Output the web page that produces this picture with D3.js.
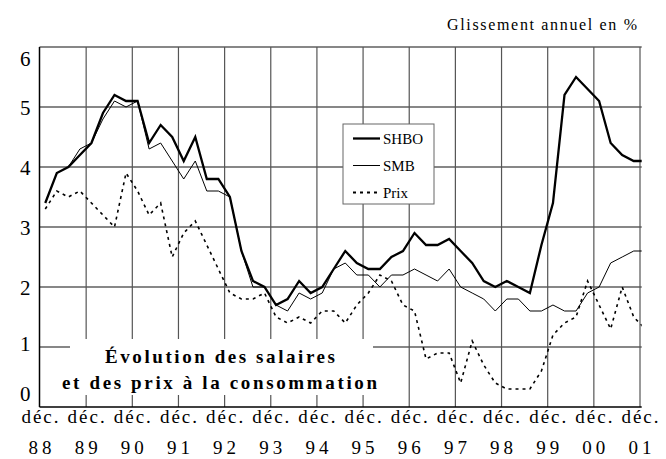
<!DOCTYPE html>
<html>
<head>
<meta charset="utf-8">
<script src="https://cdn.jsdelivr.net/npm/d3@7"></script>
<style>
  body { margin: 0; background: #fff; }
  svg { display: block; }
  svg text { font-family: "Liberation Serif", "Times New Roman", serif; }
</style>
</head>
<body>
<svg id="chart" width="666" height="459"></svg>
<script>
// glissement annuel trimestriel, de mars 89 a mars 02 (un point par trimestre)
const shbo = [3.4, 3.9, 4.0, 4.2, 4.4, 4.9, 5.2, 5.1, 5.1, 4.4, 4.7, 4.5, 4.1, 4.5, 3.8, 3.8,
  3.5, 2.6, 2.1, 2.0, 1.7, 1.8, 2.1, 1.9, 2.0, 2.3, 2.6, 2.4, 2.3, 2.3, 2.5, 2.6,
  2.9, 2.7, 2.7, 2.8, 2.6, 2.4, 2.1, 2.0, 2.1, 2.0, 1.9, 2.7, 3.4, 5.2, 5.5, 5.3,
  5.1, 4.4, 4.2, 4.1, 4.1]
const smb = [3.4, 3.9, 4.0, 4.3, 4.4, 4.8, 5.1, 5.0, 5.1, 4.3, 4.4, 4.1, 3.8, 4.1, 3.6, 3.6,
  3.5, 2.6, 2.0, 2.0, 1.7, 1.6, 1.9, 1.8, 1.9, 2.3, 2.4, 2.2, 2.2, 2.0, 2.2, 2.2,
  2.3, 2.2, 2.1, 2.3, 2.0, 1.9, 1.8, 1.6, 1.8, 1.8, 1.6, 1.6, 1.7, 1.6, 1.6, 1.9,
  2.0, 2.4, 2.5, 2.6, 2.6]
const prix = [3.3, 3.6, 3.5, 3.6, 3.4, 3.2, 3.0, 3.9, 3.6, 3.2, 3.4, 2.5, 2.9, 3.1, 2.7, 2.3,
  1.9, 1.8, 1.8, 1.9, 1.5, 1.4, 1.5, 1.4, 1.6, 1.6, 1.4, 1.7, 1.9, 2.2, 2.1, 1.7,
  1.6, 0.8, 0.9, 0.9, 0.4, 1.1, 0.7, 0.4, 0.3, 0.3, 0.3, 0.6, 1.2, 1.4, 1.5, 2.1,
  1.7, 1.3, 2.0, 1.5, 1.3]
const years = ['88', '89', '90', '91', '92', '93', '94', '95', '96', '97', '98', '99', '00', '01']
const yTicks = [0, 1, 2, 3, 4, 5, 6]
const seriesNames = ['SHBO', 'SMB', 'Prix']

const svg = d3.select('#chart')
const plotLeft = 39.5
const plotRight = 641.7
const plotTop = 47
const plotBottom = 407

// 4 trimestres par annee, decembre 88 = 0
const x = d3.scaleLinear().domain([0, 52]).range([plotLeft, 639.5])
const y = d3.scaleLinear().domain([0, 6]).range([plotBottom, plotTop])

// grille horizontale
svg.append('g').selectAll('line')
  .data(yTicks.filter(d => d > 0))
  .join('line')
  .attr('x1', plotLeft).attr('x2', plotRight)
  .attr('y1', d => y(d)).attr('y2', d => y(d))
  .attr('stroke', '#111')
  .attr('stroke-width', 1.1)

// axe x : les ticks servent aussi de grille verticale
const xAxis = d3.axisBottom(x)
  .tickValues(years.map((d, i) => i * 4))
  .tickSizeInner(-(plotBottom - plotTop))
  .tickSizeOuter(0)
const gx = svg.append('g')
  .attr('transform', `translate(0,${plotBottom})`)
  .call(xAxis)
  .attr('font-family', null)
gx.select('.domain').remove()
gx.selectAll('.tick line').attr('stroke', '#555').attr('stroke-width', 1.2)
gx.selectAll('.tick').filter(d => d === 0).select('line').remove()
gx.selectAll('.tick text').each(function (d, i) {
  const t = d3.select(this)
  t.text(null).attr('y', null).attr('dy', null)
    .attr('fill', '#000')
    .attr('font-size', 19)
  t.append('tspan').attr('x', 1).attr('y', 16).attr('letter-spacing', 2).text('déc.')
  t.append('tspan').attr('x', 2).attr('y', 47).attr('letter-spacing', 4).text(years[i])
})

// courbes
svg.append('clipPath').attr('id', 'plotClip')
  .append('rect')
  .attr('x', plotLeft).attr('y', plotTop - 5)
  .attr('width', plotRight - plotLeft).attr('height', plotBottom - plotTop + 10)

const line = d3.line()
  .x((d, i) => x(i + 0.5))
  .y(d => y(d))

const styles = [
  { data: shbo, width: 2.3, dash: null },
  { data: smb, width: 1, dash: null },
  { data: prix, width: 1.6, dash: '3,4' }
]
const gLines = svg.append('g').attr('clip-path', 'url(#plotClip)')
styles.forEach(s => {
  gLines.append('path')
    .datum(s.data)
    .attr('d', line)
    .attr('fill', 'none')
    .attr('stroke', '#000')
    .attr('stroke-width', s.width)
    .attr('stroke-dasharray', s.dash)
    .attr('stroke-linejoin', 'miter')
})

// cadre gauche et bas
svg.append('line')
  .attr('x1', plotLeft).attr('x2', plotLeft).attr('y1', plotTop).attr('y2', plotBottom)
  .attr('stroke', '#000').attr('stroke-width', 1.5)
svg.append('line')
  .attr('x1', plotLeft).attr('x2', plotRight).attr('y1', plotBottom).attr('y2', plotBottom)
  .attr('stroke', '#000').attr('stroke-width', 1.5)

// axe y
const yAxis = d3.axisLeft(y)
  .tickValues(yTicks)
  .tickFormat(d3.format('d'))
  .tickSize(0)
  .tickPadding(9)
const gy = svg.append('g')
  .attr('transform', `translate(${plotLeft},0)`)
  .call(yAxis)
  .attr('font-family', null)
gy.select('.domain').remove()
gy.selectAll('.tick text')
  .attr('fill', '#000')
  .attr('font-size', 21)
  .attr('dy', d => d === 6 ? '0.9em' : d === 0 ? '-0.3em' : d === 1 ? '0.15em' : '0.35em')

// encadre du titre
svg.append('rect')
  .attr('x', 70).attr('y', 339)
  .attr('width', 303).attr('height', 56)
  .attr('fill', '#fff')
const titleBox = svg.append('g')
  .attr('font-weight', 'bold')
  .attr('font-size', 19)
  .attr('fill', '#000')
titleBox.append('text')
  .attr('x', 105).attr('y', 363)
  .attr('textLength', 230).attr('lengthAdjust', 'spacing')
  .text('Évolution des salaires')
titleBox.append('text')
  .attr('x', 62).attr('y', 389)
  .attr('textLength', 315).attr('lengthAdjust', 'spacing')
  .text('et des prix à la consommation')

// unite
svg.append('text')
  .attr('x', 447).attr('y', 30)
  .attr('font-size', 16)
  .attr('textLength', 190).attr('lengthAdjust', 'spacing')
  .text('Glissement annuel en %')

// legende
const legend = svg.append('g').attr('transform', 'translate(343,124)')
legend.append('rect')
  .attr('width', 91).attr('height', 80)
  .attr('fill', '#fff')
  .attr('stroke', '#666')
  .attr('stroke-width', 1)
const item = legend.selectAll('g.item')
  .data(seriesNames)
  .join('g')
  .attr('class', 'item')
  .attr('transform', (d, i) => `translate(0,${14.5 + i * 27})`)
item.append('line')
  .attr('x1', 10).attr('x2', 37)
  .attr('stroke', '#000')
  .attr('stroke-width', (d, i) => styles[i].width + (i === 2 ? 0.4 : 0))
  .attr('stroke-dasharray', (d, i) => styles[i].dash)
item.append('text')
  .attr('x', 40).attr('y', 5)
  .attr('font-size', 15)
  .text(d => d)
</script>
</body>
</html>
